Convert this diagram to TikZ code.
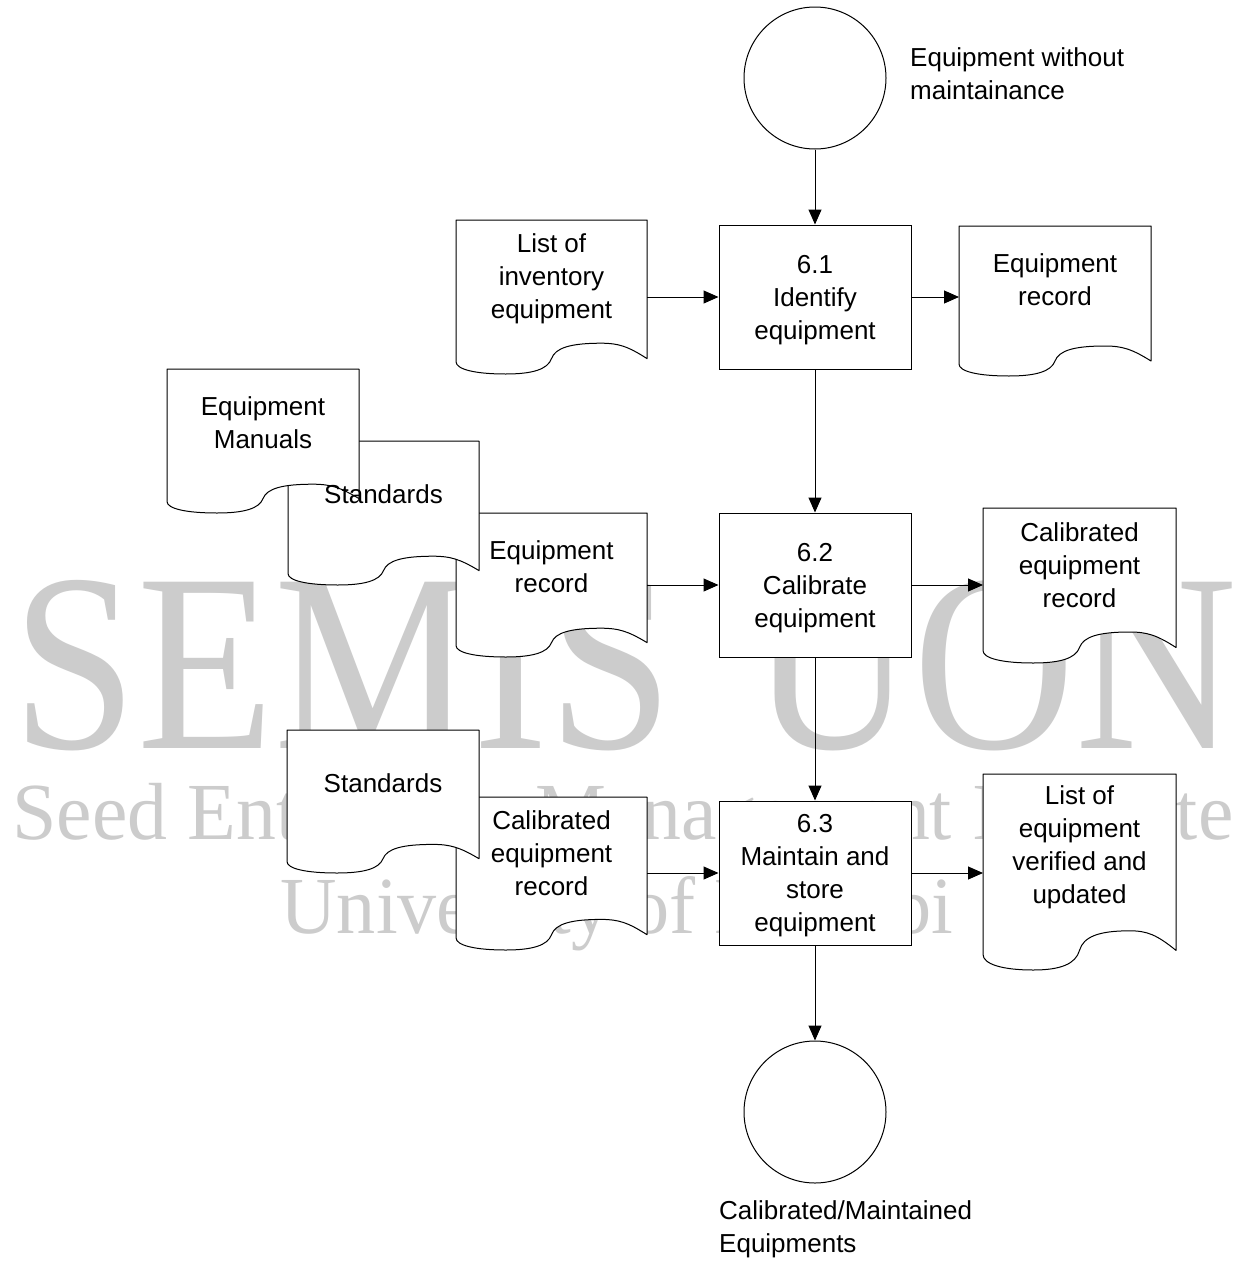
\documentclass[tikz,border=0pt]{standalone}
\usepackage{fontspec}
\usepackage{graphicx}
\setmainfont{Liberation Sans}
\newfontfamily\wmfont{Liberation Serif}
\usetikzlibrary{arrows.meta,calc}
\pgfdeclarelayer{wmlayer}
\pgfdeclarelayer{bglayer}
\pgfsetlayers{wmlayer,bglayer,main}
\tikzset{
  every node/.style={font=\fontsize{26}{33}\selectfont},
  proc/.style={draw, line width=1pt, fill=white, rectangle, minimum width=192pt, minimum height=144pt, inner sep=0pt, align=center, text depth=0pt},
  term/.style={draw, line width=1pt, fill=white, circle, minimum size=142pt, inner sep=0pt},
  doctext/.style={rectangle, inner sep=0pt, outer sep=0pt, anchor=north west, align=center},
  docline/.style={draw, line width=1pt, fill=white, line join=round},
  flow/.style={line width=1pt, -{Triangle[length=15pt,width=13pt]}},
  wm/.style={text=black!20, inner sep=0pt, anchor=base},
  lbl/.style={align=left, inner sep=0pt, anchor=west}
}
\newcommand\docout[3]{%
  \begin{scope}[shift={(#1.north west)}]
    \path[docline] (0,0) -- (#2,0) -- (#2,{0.9*#3})
      .. controls ({0.9*#2},{0.82*#3}) and ({0.85*#2},{0.8*#3}) .. ({0.76*#2},{0.8*#3})
      .. controls ({0.6*#2},{0.8*#3}) and ({0.52*#2},{0.83*#3}) .. ({0.5*#2},{0.9*#3})
      .. controls ({0.48*#2},{0.97*#3}) and ({0.4*#2},{#3}) .. ({0.26*#2},{#3})
      .. controls ({0.1*#2},{#3}) and (0,{0.97*#3}) .. (0,{0.92*#3}) -- cycle;
  \end{scope}}
\begin{document}
\begin{tikzpicture}[x=1pt,y=-1pt]
\useasboundingbox (0,0) rectangle (1248,1261);

% watermark
\begin{pgfonlayer}{wmlayer}
\fill[white] (0,0) rectangle (1248,1261);
\node[wm, font=\wmfont\fontsize{254}{254}\selectfont] (wm1) at (625,748) {\scalebox{0.882}[1]{SEMIS\hspace{26pt} UON}};
\node[wm, font=\wmfont\fontsize{81}{81}\selectfont] (wm2) at (623,839) {\scalebox{0.985}[1]{Seed Enterprise Management Institute}};
\node[wm, font=\wmfont\fontsize{81}{81}\selectfont] (wm3) at (617,933) {\scalebox{0.965}[1]{University of Nairobi}};
\end{pgfonlayer}

% process boxes and terminators
\node[proc] (p1) at (815,297) {6.1\\Identify\\equipment};
\node[proc] (p2) at (815,585) {6.2\\Calibrate\\equipment};
\node[proc] (p3) at (815,873) {6.3\\Maintain and\\store\\equipment};
\node[term] (c1) at (815,78) {};
\node[term] (c2) at (815,1112) {};
\node[lbl] (l1) at (910,74) {Equipment without\\maintainance};
\node[lbl] (l2) at (719,1229) {Calibrated/Maintained\\Equipments};

% documents (text)
\node[doctext, minimum width=191pt, minimum height=118pt] (d1) at (456,220) {List of\\inventory\\equipment};
\node[doctext, minimum width=192pt, minimum height=108pt] (d2) at (959,226) {Equipment\\record};
\node[doctext, minimum width=192pt, minimum height=106.6pt] (d3) at (167,369) {Equipment\\Manuals};
\node[doctext, minimum width=191pt, minimum height=106.6pt] (d4) at (288,441) {Standards};
\node[doctext, minimum width=191pt, minimum height=106.6pt] (d5) at (456,513) {Equipment\\record};
\node[doctext, minimum width=193pt, minimum height=114.7pt] (d6) at (983,508) {Calibrated\\equipment\\record};
\node[doctext, minimum width=192pt, minimum height=105.8pt] (d7) at (287,730) {Standards};
\node[doctext, minimum width=191pt, minimum height=113.2pt] (d8) at (456,797) {Calibrated\\equipment\\record};
\node[doctext, minimum width=193pt, minimum height=147pt] (d9) at (983,774) {List of\\equipment\\verified and\\updated};

% document outlines
\begin{pgfonlayer}{bglayer}
\docout{d1}{191}{154}
\docout{d2}{192}{150}
\docout{d5}{191}{144}
\docout{d4}{191}{144}
\docout{d3}{192}{144}
\docout{d6}{193}{155}
\docout{d8}{191}{153}
\docout{d7}{192}{143}
\docout{d9}{193}{196}
\end{pgfonlayer}

% connectors
\draw[flow] (c1) -- (p1);
\draw[flow] (p1) -- (p2);
\draw[flow] (p2) -- (p3);
\draw[flow] (p3) -- (c2);
\draw[flow] (d1.east |- p1.west) -- (p1.west);
\draw[flow] (p1.east) -- (d2.west |- p1.east);
\draw[flow] (d5.east |- p2.west) -- (p2.west);
\draw[flow] (p2.east) -- (d6.west |- p2.east);
\draw[flow] (d8.east |- p3.west) -- (p3.west);
\draw[flow] (p3.east) -- (d9.west |- p3.east);
\end{tikzpicture}
\end{document}
